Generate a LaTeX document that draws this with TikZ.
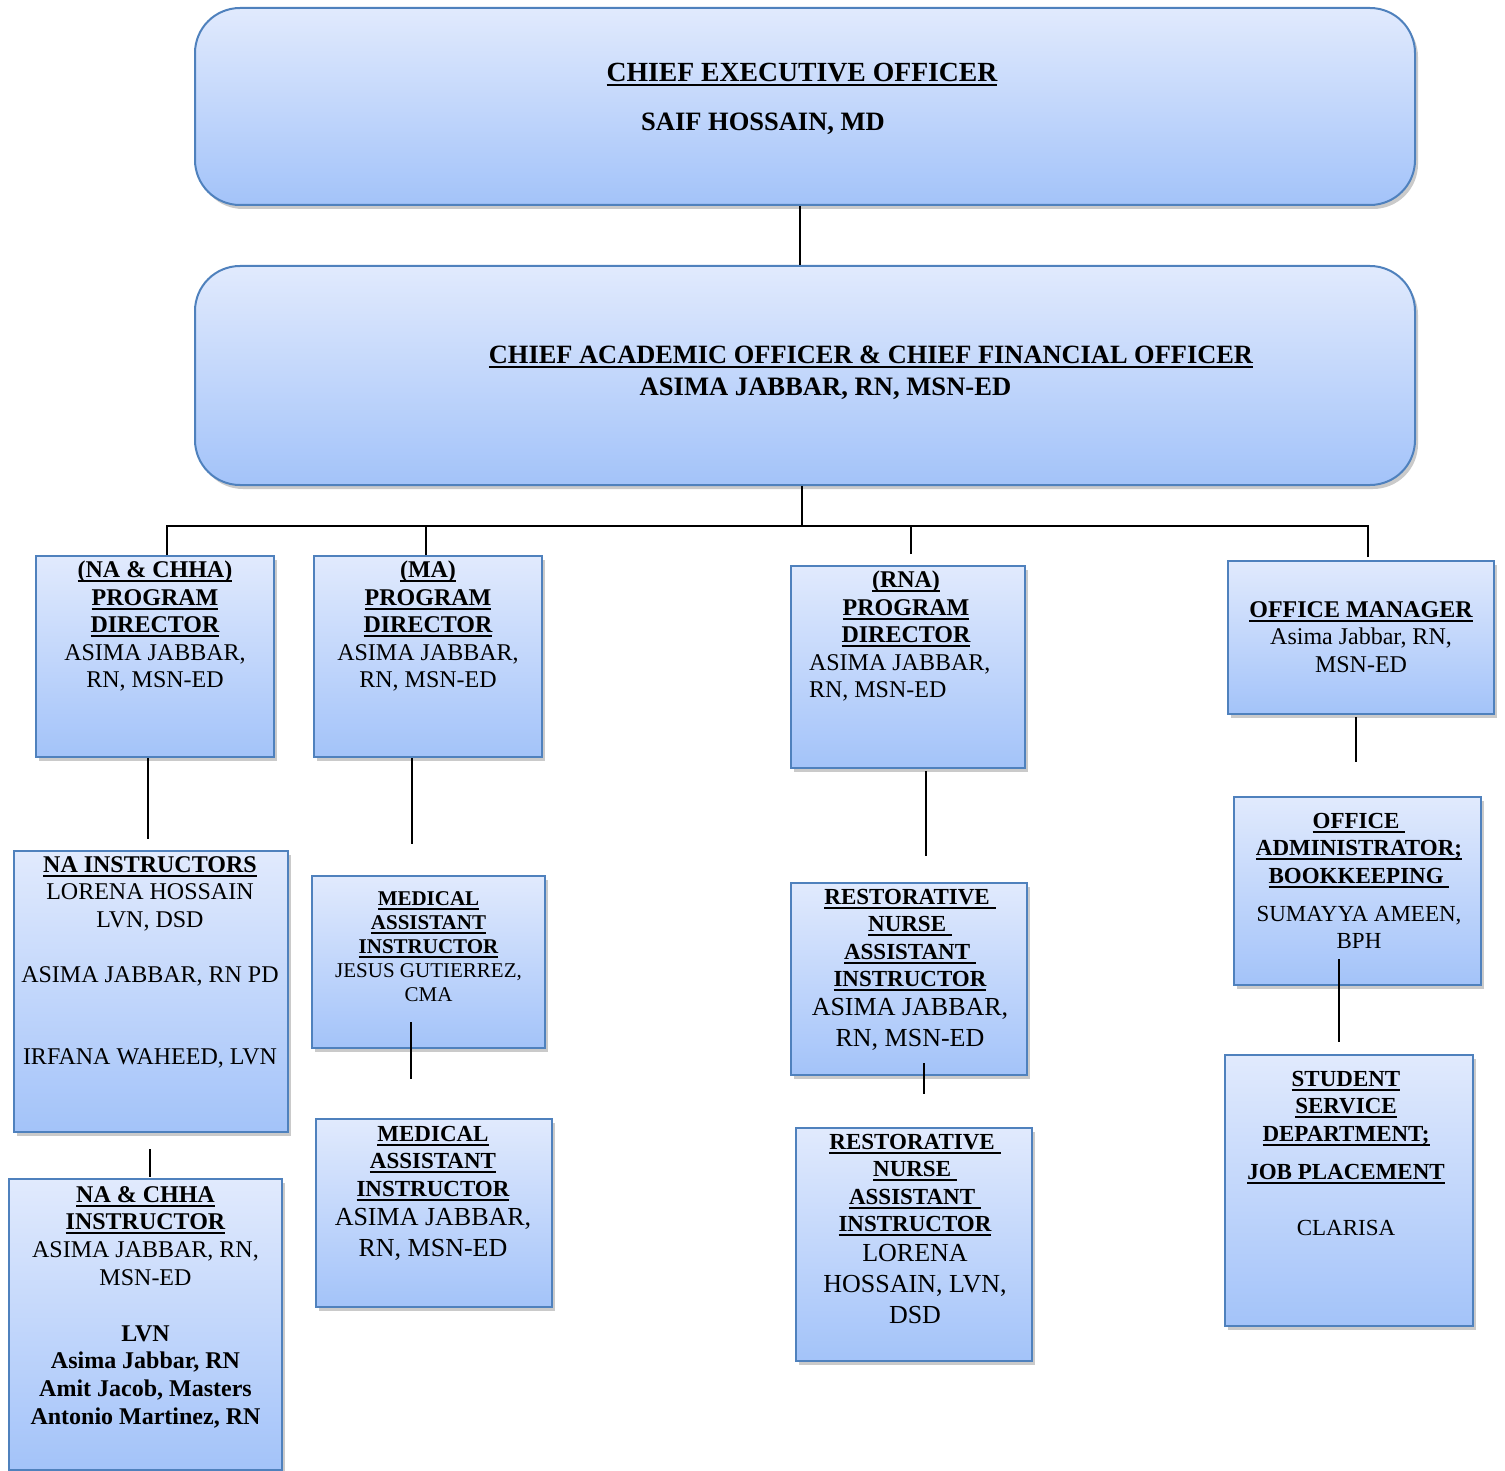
\documentclass[tikz,border=0pt]{standalone}
\usepackage{fontspec}
\setmainfont{Liberation Serif}
\usetikzlibrary{positioning,shadows}
\definecolor{unittop}{RGB}{225,234,253}
\definecolor{unitbottom}{RGB}{163,195,249}
\definecolor{unitborder}{RGB}{79,129,189}
\newcommand{\ttl}[1]{\setbox0=\hbox{\bfseries #1}\rlap{\vrule width\wd0 height -2.5pt depth 4.5pt}\box0}
\newcommand{\nm}{\fontsize{26}{27.5}\selectfont}
\tikzset{
  unit/.style={draw=unitborder, line width=2pt, top color=unittop, bottom color=unitbottom, inner sep=0pt,
    drop shadow={shadow xshift=3pt, shadow yshift=-4pt, opacity=0.35, fill=black!60}},
  headunit/.style={unit, rounded corners=45pt},
  txt/.style={align=center, inner sep=0pt, font=\fontsize{24}{27.5}\selectfont},
  link/.style={line width=2pt},
}
\begin{document}
\begin{tikzpicture}[x=1pt,y=-1pt]
\useasboundingbox (0,0) rectangle (1505,1471);

\node[headunit, minimum width=1220pt, minimum height=197pt] (ceo) at (805,106.5) {};
\node[txt, font=\fontsize{27.7}{30}\selectfont\bfseries, below=56pt of ceo.north, xshift=-3pt] (ceotxt)
  {\ttl{CHIEF EXECUTIVE OFFICER}\\[19pt] \fontsize{26.5}{30}\selectfont SAIF HOSSAIN, MD\hspace*{78pt}};

\node[headunit, minimum width=1220pt, minimum height=219pt] (cao) at (805,375.5) {};
\node[txt, font=\fontsize{26.4}{32}\selectfont\bfseries, below=81pt of cao.north, xshift=66pt] (caotxt)
  {\ttl{CHIEF ACADEMIC OFFICER \& CHIEF FINANCIAL OFFICER}\\ \fontsize{26.6}{32}\selectfont ASIMA JABBAR, RN, MSN-ED\hspace*{91pt}};

\node[unit, minimum width=238pt, minimum height=201pt] (pdna) at (155,656.5) {};
\node[txt, below=6pt of pdna.north] (pdnatxt)
  {\ttl{(NA \& CHHA)}\\ \ttl{PROGRAM}\\ \ttl{DIRECTOR}\\ ASIMA JABBAR,\\ RN, MSN-ED};

\node[unit, minimum width=228pt, minimum height=201pt] (pdma) at (428,656.5) {};
\node[txt, below=6pt of pdma.north] (pdmatxt)
  {\ttl{(MA)}\\ \ttl{PROGRAM}\\ \ttl{DIRECTOR}\\ ASIMA JABBAR,\\ RN, MSN-ED};

\node[unit, minimum width=234pt, minimum height=202pt] (pdrna) at (908,667) {};
\node[txt, text width=194pt, align=flush left, below=6pt of pdrna.north, xshift=-2pt] (pdrnatxt)
  {\makebox[194pt]{\ttl{(RNA)}}\\ \makebox[194pt]{\ttl{PROGRAM}}\\ \makebox[194pt]{\ttl{DIRECTOR}}\\ ASIMA JABBAR,\\ RN, MSN-ED};

\node[unit, minimum width=266pt, minimum height=153pt] (offmgr) at (1361,637.5) {};
\node[txt, below=41pt of offmgr.north] (offmgrtxt)
  {\ttl{OFFICE MANAGER}\\ Asima Jabbar, RN,\\ MSN-ED};

\node[unit, minimum width=274pt, minimum height=281pt] (nainst) at (151,991.5) {};
\node[txt, below=6pt of nainst.north, xshift=-1pt] (nainsttxt)
  {\ttl{NA INSTRUCTORS}\\ LORENA HOSSAIN\\ LVN, DSD\\[27.5pt] ASIMA JABBAR, RN PD\\[55pt] IRFANA WAHEED, LVN};

\node[unit, minimum width=233pt, minimum height=172pt] (mainst1) at (428.5,962) {};
\node[txt, font=\fontsize{21}{24}\selectfont, below=16pt of mainst1.north] (mainst1txt)
  {\ttl{MEDICAL}\\ \ttl{ASSISTANT}\\ \ttl{INSTRUCTOR}\\ JESUS GUTIERREZ,\\ CMA};

\node[unit, minimum width=236pt, minimum height=192pt] (rnainst1) at (909,979) {};
\node[txt, font=\fontsize{23}{27.5}\selectfont, below=7pt of rnainst1.north, xshift=1pt] (rnainst1txt)
  {\ttl{RESTORATIVE\ }\\ \ttl{NURSE\ }\\ \ttl{ASSISTANT\ }\\ \ttl{INSTRUCTOR}\\[1.5pt] \nm ASIMA JABBAR,\\[3.5pt] \nm RN, MSN-ED};

\node[unit, minimum width=247pt, minimum height=188pt] (offadm) at (1357.5,891) {};
\node[txt, font=\fontsize{23}{27.5}\selectfont, below=17pt of offadm.north, xshift=1.5pt] (offadmtxt)
  {\ttl{OFFICE\ }\\ \ttl{ADMINISTRATOR;}\\ \ttl{BOOKKEEPING\ }\\[10.5pt] \fontsize{23}{27.5}\selectfont SUMAYYA AMEEN,\\ \fontsize{23}{27.5}\selectfont BPH};

\node[unit, minimum width=273pt, minimum height=291pt] (nachha) at (145.5,1324.5) {};
\node[txt, font=\fontsize{24}{27.8}\selectfont, below=8pt of nachha.north] (nachhatxt)
  {\ttl{NA \& CHHA}\\ \ttl{INSTRUCTOR}\\ ASIMA JABBAR, RN,\\ MSN-ED\\[27.8pt] \bfseries LVN\\ \bfseries Asima Jabbar, RN\\ \bfseries Amit Jacob, Masters\\ \bfseries Antonio Martinez, RN};

\node[unit, minimum width=236pt, minimum height=188pt] (mainst2) at (434,1213) {};
\node[txt, font=\fontsize{23}{27.5}\selectfont, below=8pt of mainst2.north, xshift=-1pt] (mainst2txt)
  {\ttl{MEDICAL}\\ \ttl{ASSISTANT}\\ \ttl{INSTRUCTOR}\\[1.5pt] \nm ASIMA JABBAR,\\[3.5pt] \nm RN, MSN-ED};

\node[unit, minimum width=236pt, minimum height=233pt] (rnainst2) at (914,1244.5) {};
\node[txt, font=\fontsize{23}{27.5}\selectfont, below=7pt of rnainst2.north, xshift=1pt] (rnainst2txt)
  {\ttl{RESTORATIVE\ }\\ \ttl{NURSE\ }\\ \ttl{ASSISTANT\ }\\ \ttl{INSTRUCTOR}\\[2.5pt] \nm LORENA\\[3.5pt] \nm HOSSAIN, LVN,\\[3.5pt] \nm DSD};

\node[unit, minimum width=248pt, minimum height=271pt] (stusvc) at (1349,1190.5) {};
\node[txt, font=\fontsize{23}{27.5}\selectfont, below=17pt of stusvc.north, xshift=-3pt] (stusvctxt)
  {\ttl{STUDENT}\\ \ttl{SERVICE}\\ \ttl{DEPARTMENT;}\\[10.5pt] \ttl{JOB PLACEMENT}\\[28.5pt] CLARISA};

\draw[link] ([xshift=-5pt]ceo.south) -- ([xshift=-5pt]cao.north);
\draw[link] ([xshift=-3pt]cao.south) -- ++(0,40) coordinate (bus);
\draw[link] ([xshift=12pt]pdna.north) |- (bus);
\draw[link] ([xshift=-2pt]pdma.north) |- (bus);
\draw[link] ([xshift=3pt,yshift=11pt]pdrna.north) |- (bus);
\draw[link] ([xshift=7pt,yshift=3pt]offmgr.north) |- (bus);

\draw[link] ([xshift=-7pt]pdna.south) -- ([xshift=-3pt,yshift=11pt]nainst.north);
\draw[link] ([xshift=-16pt]pdma.south) -- ([xshift=-16.5pt,yshift=31pt]mainst1.north);
\draw[link] ([xshift=18pt,yshift=-2pt]pdrna.south) -- ([xshift=17pt,yshift=26pt]rnainst1.north);
\draw[link] ([xshift=-5pt,yshift=-2pt]offmgr.south) -- ([xshift=-1.5pt,yshift=34pt]offadm.north);

\draw[link] ([xshift=-1pt,yshift=-16pt]nainst.south) -- ([xshift=4.5pt,yshift=1pt]nachha.north);
\draw[link] ([xshift=-17.5pt,yshift=27pt]mainst1.south) -- ([xshift=-23pt,yshift=39pt]mainst2.north);
\draw[link] ([xshift=15pt,yshift=13pt]rnainst1.south) -- ([xshift=10pt,yshift=33pt]rnainst2.north);
\draw[link] ([xshift=-18.5pt,yshift=27pt]offadm.south) -- ([xshift=-10pt,yshift=12pt]stusvc.north);
\end{tikzpicture}
\end{document}
